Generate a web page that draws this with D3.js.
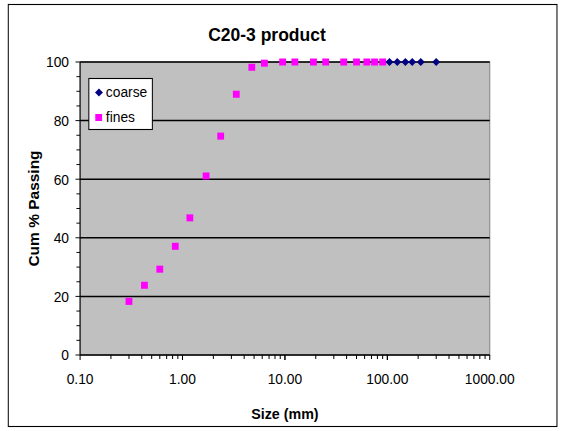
<!DOCTYPE html>
<html><head><meta charset="utf-8">
<script src="https://cdn.jsdelivr.net/npm/d3@7"></script>
<style>body{margin:0;background:#fff}svg{display:block}text{font-family:"Liberation Sans",Arial,sans-serif}</style>
</head><body><svg id="c" width="568" height="431"></svg>
<script>
const title = "C20-3 product";
const xTitle = "Size (mm)";
const yTitle = "Cum % Passing";
const coarseSize = [105, 125, 150, 175, 212, 300];
const coarsePass = [100, 100, 100, 100, 100, 100];
const finesSize = [0.3, 0.425, 0.6, 0.85, 1.18, 1.7, 2.36, 3.35, 4.75, 6.3, 9.5, 12.5, 19, 25, 37.5, 50, 63, 75, 90];
const finesPass = [18.3, 23.8, 29.3, 37.1, 46.8, 61.1, 74.7, 89.0, 98.2, 99.6, 100, 100, 100, 100, 100, 100, 100, 100, 100];
const xTicks = [0.1, 1, 10, 100, 1000];
const yTicks = [0, 20, 40, 60, 80, 100];
const legendNames = ["coarse", "fines"];

const root = d3.select("#c").append("g").attr("transform", "scale(0.9206,1)");
const svg = root;
const L = 87, R = 532, T = 62, B = 355;
const x = d3.scaleLog().domain([0.1, 1000]).range([L, R]);
const y = d3.scaleLinear().domain([0, 100]).range([B, T]);

svg.append("rect").attr("x", 9).attr("y", 4.5).attr("width", 596).attr("height", 422)
  .attr("fill", "#fff").attr("stroke", "#000").attr("stroke-width", 1.1);

svg.append("rect").attr("x", L).attr("y", T).attr("width", R - L).attr("height", B - T)
  .attr("fill", "#c0c0c0").attr("stroke", "#808080").attr("stroke-width", 1.1);

// gridlines
svg.append("g").selectAll("line").data(yTicks.filter(d => d > 0)).join("line")
  .attr("x1", L).attr("x2", R).attr("y1", d => y(d)).attr("y2", d => y(d))
  .attr("stroke", "#000").attr("stroke-width", 1.5);

// y axis
const yMinor = d3.range(0, 101, 5);
const gy = svg.append("g");
gy.append("line").attr("x1", L).attr("x2", L).attr("y1", T).attr("y2", B).attr("stroke", "#000").attr("stroke-width", 1.1);
gy.selectAll("line.mn").data(yMinor).join("line").attr("class", "mn")
  .attr("x1", d => d % 20 === 0 ? L - 5 : L - 4).attr("x2", L).attr("y1", d => y(d)).attr("y2", d => y(d))
  .attr("stroke", "#000").attr("stroke-width", 1);
gy.selectAll("text").data(yTicks).join("text")
  .attr("x", 75).attr("y", d => y(d)).attr("dy", "0.36em").attr("text-anchor", "end")
  .attr("font-size", 15).attr("fill", "#000").text(d => d);

// x axis
const xMinor = [];
for (let e = -1; e < 3; e++) for (let k = 1; k <= 10; k++) xMinor.push(k * Math.pow(10, e));
const gx = svg.append("g");
gx.append("line").attr("x1", L).attr("x2", R).attr("y1", B).attr("y2", B).attr("stroke", "#000").attr("stroke-width", 1.5);
gx.selectAll("line.mn").data(xMinor).join("line").attr("class", "mn")
  .attr("x1", d => x(d)).attr("x2", d => x(d)).attr("y1", B)
  .attr("y2", d => xTicks.some(t => Math.abs(t - d) < 1e-9) ? B + 5 : B + 4)
  .attr("stroke", "#000").attr("stroke-width", 1.1);
gx.selectAll("text").data(xTicks).join("text")
  .attr("x", d => x(d)).attr("y", 384).attr("text-anchor", "middle")
  .attr("font-size", 15).attr("fill", "#000").text(d => d.toFixed(2));

// fines
svg.append("g").selectAll("rect").data(finesSize.map((s, i) => [s, finesPass[i]])).join("rect")
  .attr("x", d => x(d[0]) - 3.7).attr("y", d => y(d[1]) - 3.5).attr("width", 7.4).attr("height", 7)
  .attr("fill", "#ff00ff");
// coarse
const diamond = "M0,-4L4.3,0L0,4L-4.3,0Z";
svg.append("g").selectAll("path").data(coarseSize.map((s, i) => [s, coarsePass[i]])).join("path")
  .attr("transform", d => `translate(${x(d[0])},${y(d[1])})`).attr("d", diamond).attr("fill", "#000080");

// legend
const lg = svg.append("g");
lg.append("rect").attr("x", 96.5).attr("y", 78.5).attr("width", 69).attr("height", 51)
  .attr("fill", "#fff").attr("stroke", "#000").attr("stroke-width", 1.1);
lg.append("path").attr("transform", "translate(107.5,92.5)").attr("d", diamond).attr("fill", "#000080");
lg.append("rect").attr("x", 103.5).attr("y", 114).attr("width", 7.4).attr("height", 7).attr("fill", "#ff00ff");
lg.selectAll("text").data(legendNames).join("text")
  .attr("x", 115).attr("y", (d, i) => i === 0 ? 97 : 122.5).attr("font-size", 15).attr("fill", "#000").text(d => d);

// titles
svg.append("text").attr("x", 290).attr("y", 41).attr("text-anchor", "middle")
  .attr("font-size", 19).attr("font-weight", "bold").text(title);
svg.append("text").attr("x", (L + R) / 2).attr("y", 419).attr("text-anchor", "middle")
  .attr("font-size", 15.5).attr("font-weight", "bold").text(xTitle);
svg.append("text").attr("transform", `translate(42,${(T + B) / 2}) rotate(-90)`).attr("text-anchor", "middle")
  .attr("font-size", 15.5).attr("font-weight", "bold").text(yTitle);
</script></body></html>
